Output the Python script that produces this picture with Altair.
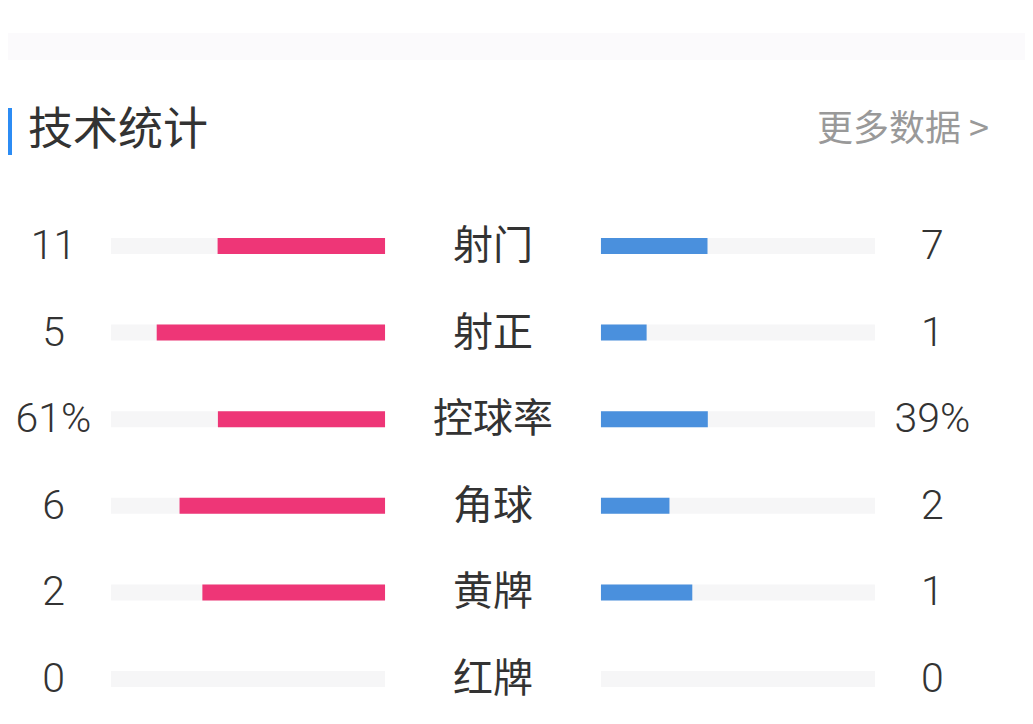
import altair as alt
import pandas as pd

# ---- data ----
categories = ["射门", "射正", "控球率", "角球", "黄牌", "红牌"]
home_values = [11, 5, 61, 6, 2, 0]
away_values = [7, 1, 39, 2, 1, 0]
home_labels = ["11", "5", "61%", "6", "2", "0"]
away_labels = ["7", "1", "39%", "2", "1", "0"]
title_text = "技术统计"
more_text = "更多数据 >"

# ---- layout constants (in scale units: 1 = track length) ----
GAP = 0.394      # half-gap between tracks around the centre label
NUM_OFF = 1.604  # offset of the numbers from the centre

rows = []
for i, (c, h, a, hl, al) in enumerate(zip(categories, home_values, away_values, home_labels, away_labels)):
    tot = h + a
    hs = h / tot if tot else 0.0
    as_ = a / tot if tot else 0.0
    rows.append(dict(row=i, cat=c, home_share=hs, away_share=as_, hl=hl, al=al))
df = pd.DataFrame(rows)

W, H = 1017, 708
xscale = alt.Scale(domain=[-485 / 274, -485 / 274 + W / 274], nice=False, zero=False)
row_px = 86.6
y0 = -(246 - 8) / row_px
yscale = alt.Scale(domain=[y0, y0 + H / row_px], reverse=True, nice=False, zero=False)

base = alt.Chart(df).transform_calculate(
    lt0=f"-{GAP}-1", lt1=f"-{GAP}",
    rt0=f"{GAP}", rt1=f"{GAP}+1",
    lb0=f"-{GAP}-datum.home_share", rb1=f"{GAP}+datum.away_share",
    lnum=f"-{NUM_OFF}", rnum=f"{NUM_OFF}", mid="0",
)

Y = alt.Y("row:Q", scale=yscale, axis=None)

track_l = base.mark_rule(strokeWidth=16, color="#F6F6F7", strokeCap="butt").encode(
    x=alt.X("lt0:Q", scale=xscale, axis=None), x2="lt1:Q", y=Y)
track_r = base.mark_rule(strokeWidth=16, color="#F6F6F7", strokeCap="butt").encode(
    x=alt.X("rt0:Q", scale=xscale, axis=None), x2="rt1:Q", y=Y)
bar_l = base.transform_filter("datum.home_share > 0").mark_rule(
    strokeWidth=16, color="#EE3677", strokeCap="butt").encode(
    x=alt.X("lb0:Q", scale=xscale, axis=None), x2="lt1:Q", y=Y)
bar_r = base.transform_filter("datum.away_share > 0").mark_rule(
    strokeWidth=16, color="#4A90DD", strokeCap="butt").encode(
    x=alt.X("rt0:Q", scale=xscale, axis=None), x2="rb1:Q", y=Y)

num_style = dict(font="Roboto", fontSize=41, fontWeight=300, color="#333333",
                 align="center", baseline="middle", dy=1)
num_l = base.mark_text(**num_style).encode(
    x=alt.X("lnum:Q", scale=xscale, axis=None), y=Y, text="hl:N")
num_r = base.mark_text(**num_style).encode(
    x=alt.X("rnum:Q", scale=xscale, axis=None), y=Y, text="al:N")
lab = base.mark_text(font="Noto Sans CJK SC", fontSize=40, color="#333333",
                     align="center", baseline="middle", dy=1).encode(
    x=alt.X("mid:Q", scale=xscale, axis=None), y=Y, text="cat:N")

# header decorations
hdr = pd.DataFrame({"t": [title_text], "m": [more_text]})
band = alt.Chart(hdr).mark_rect(color="#FBFAFC").encode(
    x=alt.value(0), x2=alt.value(W), y=alt.value(25), y2=alt.value(52))
accent = alt.Chart(hdr).mark_rect(color="#2C8CF4").encode(
    x=alt.value(0), x2=alt.value(4), y=alt.value(100), y2=alt.value(147))
title = alt.Chart(hdr).mark_text(font="Noto Sans CJK SC", fontSize=45, color="#333333",
                                 align="left", baseline="middle").encode(
    x=alt.value(20), y=alt.value(123), text="t:N")
more = alt.Chart(hdr).mark_text(font="Noto Sans CJK SC", fontSize=36, color="#999999",
                                align="right", baseline="middle").encode(
    x=alt.value(981), y=alt.value(122), text="m:N")

chart = alt.layer(band, accent, title, more, track_l, track_r, bar_l, bar_r,
                  num_l, num_r, lab).properties(
    width=W, height=H, padding=0,
    autosize=alt.AutoSizeParams(type="fit", contains="padding"),
    background="#FFFFFF",
).configure_view(stroke=None)

chart.save("out.html", embed_options={"renderer": "svg", "actions": False})
